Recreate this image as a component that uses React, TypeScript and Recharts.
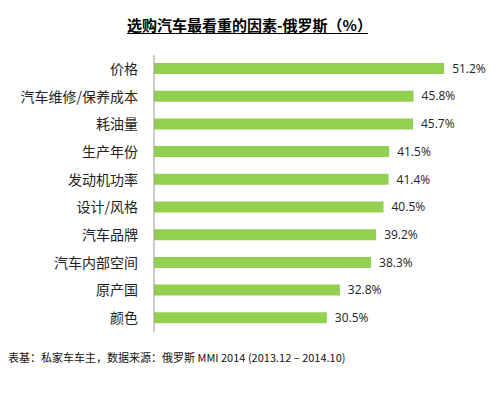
import { BarChart, Bar, XAxis, YAxis, LabelList } from 'recharts'

const factors = [
  '价格',
  '汽车维修/保养成本',
  '耗油量',
  '生产年份',
  '发动机功率',
  '设计/风格',
  '汽车品牌',
  '汽车内部空间',
  '原产国',
  '颜色',
]
const shares = [51.2, 45.8, 45.7, 41.5, 41.4, 40.5, 39.2, 38.3, 32.8, 30.5]

const title = '选购汽车最看重的因素-俄罗斯（%）'
const footnote = '表基：私家车车主，数据来源：俄罗斯 MMI 2014 (2013.12 – 2014.10)'

const data = factors.map((name, i) => ({ name, value: shares[i] }))

const FONT = '"Noto Sans CJK SC", "Noto Sans", sans-serif'

export default function App() {
  return (
    <div style={{ position: 'absolute', left: 0, top: 0, width: 498, height: 394, background: '#fff', fontFamily: FONT }}>
      <div
        style={{
          position: 'absolute',
          left: 127,
          top: 16,
          width: 241,
          fontSize: 15,
          fontWeight: 'bold',
          color: '#000',
          borderBottom: '1.5px solid #000',
          lineHeight: '17px',
          whiteSpace: 'nowrap',
        }}
      >
        {title}
      </div>
      <div style={{ position: 'absolute', top: 0, left: 0 }}>
        <BarChart
          width={498}
          height={394}
          layout="vertical"
          data={data}
          margin={{ top: 55, right: 4, bottom: 62, left: 0 }}
        >
          <XAxis type="number" domain={[0, 60]} hide />
          <YAxis
            type="category"
            dataKey="name"
            width={154}
            tickLine={false}
            tickMargin={10}
            axisLine={{ stroke: '#999' }}
            tick={{ fontSize: 14, fill: '#222', fontFamily: FONT }}
            interval={0}
          />
          <Bar dataKey="value" fill="#92D050" barSize={11} isAnimationActive={false}>
            <LabelList
              dataKey="value"
              position="right"
              offset={8}
              formatter={(v: number) => `${v.toFixed(1)}%`}
              style={{ fontSize: 12, fill: '#222', fontFamily: '"Open Sans", sans-serif' }}
            />
          </Bar>
        </BarChart>
      </div>
      <div
        style={{
          position: 'absolute',
          left: 8,
          top: 349,
          fontSize: 11,
          color: '#111',
          whiteSpace: 'nowrap',
        }}
      >
        {footnote}
      </div>
    </div>
  )
}
